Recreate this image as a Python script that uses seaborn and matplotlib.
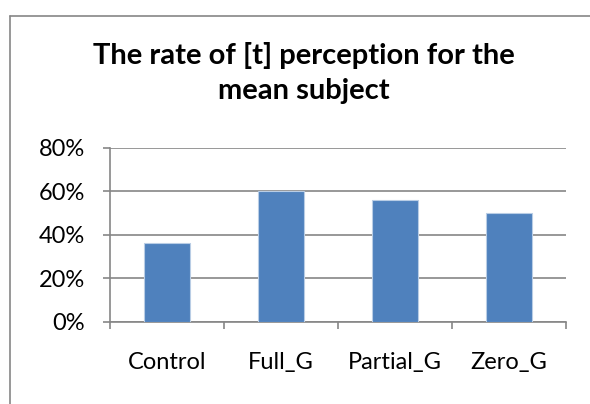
import matplotlib
matplotlib.use("Agg")
import matplotlib.pyplot as plt
import seaborn as sns
import pandas as pd
from matplotlib.lines import Line2D
from matplotlib.ticker import PercentFormatter, FixedLocator

categories = ["Control", "Full_G", "Partial_G", "Zero_G"]
values = [36, 60, 56, 50]
yticks = [0, 20, 40, 60, 80]
title = "The rate of [t] perception for the\nmean subject"

sns.set_theme(style="white")
plt.rcParams["font.family"] = ["Lato", "DejaVu Sans"]

df = pd.DataFrame({"cat": categories, "val": values})

W, H = 590, 404
fig = plt.figure(figsize=(W / 100, H / 100), dpi=100)
ax = fig.add_axes([110 / W, 1 - 321.7 / H, (566 - 110) / W, (321.7 - 147.5) / H])

sns.barplot(data=df, x="cat", y="val", color="#4F81BD", width=0.4,
            edgecolor="#B9CDE5", linewidth=0.8, saturation=1, ax=ax, zorder=3)

ax.set_xlim(-0.5, len(categories) - 0.5)
ax.set_ylim(0, 80)
ax.set_yticks(yticks)
ax.yaxis.set_major_formatter(PercentFormatter(decimals=0))
ax.yaxis.grid(True, color="#868686", linewidth=1.2, zorder=0)
ax.set_axisbelow(True)
ax.set_xlabel("")
ax.set_ylabel("")

for s in ["top", "right"]:
    ax.spines[s].set_visible(False)
for s in ["left", "bottom"]:
    ax.spines[s].set_color("#868686")
    ax.spines[s].set_linewidth(1.2)

# x ticks at category boundaries
ax.xaxis.set_major_locator(FixedLocator([i - 0.5 for i in range(len(categories) + 1)]))
ax.xaxis.set_minor_locator(FixedLocator(list(range(len(categories)))))
ax.set_xticklabels([""] * (len(categories) + 1))
ax.set_xticklabels(categories, minor=True)
ax.tick_params(axis="x", which="major", bottom=True, length=5, width=1.2, color="#868686")
ax.tick_params(axis="x", which="minor", bottom=False, length=0, pad=22, labelsize=17, labelcolor="black")
ax.tick_params(axis="y", left=True, length=5, width=1.2, color="#868686", pad=13,
               labelsize=17, labelcolor="black")

fig.text(304 / W, 1 - 42 / H, title, ha="center", va="top", fontsize=21,
         fontweight="bold", color="black", linespacing=1.45)

# chart-area border (top and left edges visible in the crop)
bx, by = 9.5 / W, 1 - 15.5 / H
fig.add_artist(Line2D([bx, 1.0], [by, by], transform=fig.transFigure,
                      color="#868686", linewidth=1.2))
fig.add_artist(Line2D([bx, bx], [0.0, by], transform=fig.transFigure,
                      color="#868686", linewidth=1.2))

fig.savefig("out.png", dpi=100)
